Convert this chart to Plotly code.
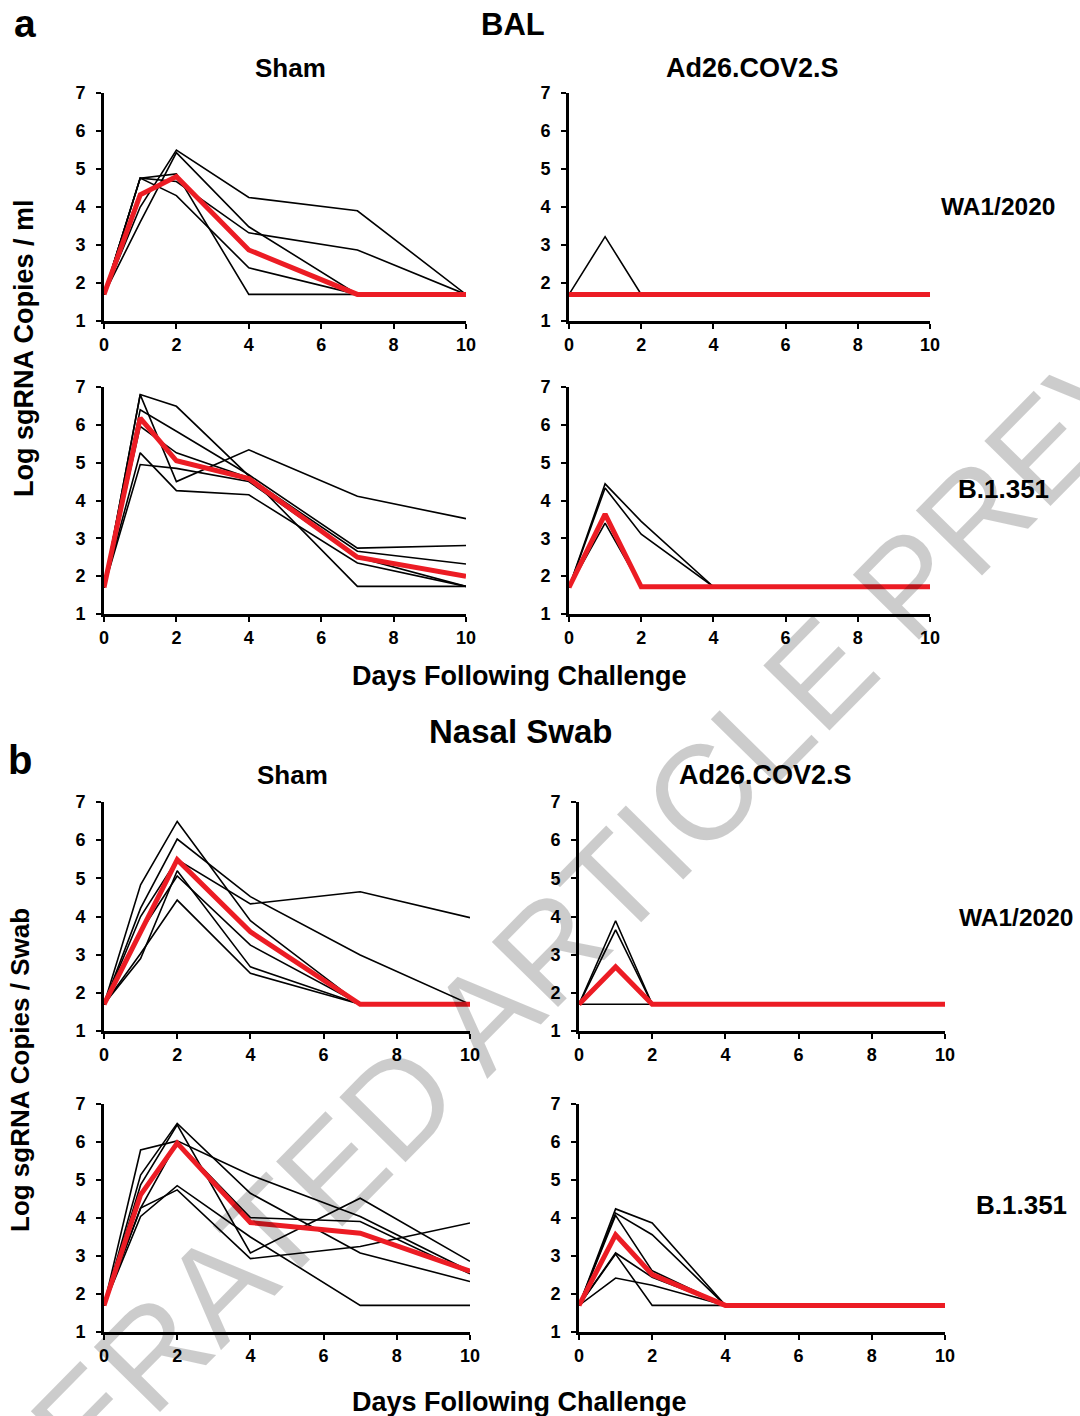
import plotly.graph_objects as go

days = [0, 1, 2, 4, 7, 10]
x_ticks = [0, 2, 4, 6, 8, 10]
y_ticks = [1, 2, 3, 4, 5, 6, 7]

# ---- a: BAL ----
bal_sham_wa = [
    [1.7, 4.0, 5.5, 4.25, 3.9, 1.7],
    [1.7, 3.6, 5.43, 3.48, 1.7, 1.7],
    [1.7, 4.76, 4.87, 1.7, 1.7, 1.7],
    [1.7, 4.76, 4.67, 3.32, 2.87, 1.7],
    [1.7, 4.76, 4.3, 2.4, 1.7, 1.7],
]
bal_sham_wa_mean = [1.7, 4.32, 4.8, 2.87, 1.7, 1.7]

bal_ad26_wa = [
    [1.7, 3.22, 1.7, 1.7, 1.7, 1.7],
    [1.7, 1.7, 1.7, 1.7, 1.7, 1.7],
]
bal_ad26_wa_mean = [1.7, 1.7, 1.7, 1.7, 1.7, 1.7]

bal_sham_b = [
    [1.7, 6.8, 6.49, 4.65, 1.73, 1.73],
    [1.7, 6.8, 4.5, 5.34, 4.11, 3.52],
    [1.7, 6.4, 5.83, 4.68, 2.74, 2.81],
    [1.7, 5.96, 5.26, 4.6, 2.66, 2.32],
    [1.7, 5.26, 4.26, 4.15, 2.35, 1.73],
    [1.7, 4.95, 4.85, 4.5, 2.5, 1.73],
]
bal_sham_b_mean = [1.7, 6.18, 5.05, 4.58, 2.5, 2.0]

bal_ad26_b = [
    [1.7, 4.44, 3.45, 1.72, 1.72, 1.72],
    [1.7, 4.33, 3.11, 1.72, 1.72, 1.72],
    [1.7, 3.4, 1.72, 1.72, 1.72, 1.72],
]
bal_ad26_b_mean = [1.7, 3.64, 1.72, 1.72, 1.72, 1.72]

# ---- b: Nasal swab ----
ns_sham_wa = [
    [1.7, 4.83, 6.49, 3.89, 1.7, 1.7],
    [1.7, 4.22, 6.03, 4.52, 2.99, 1.7],
    [1.7, 4.0, 5.49, 4.33, 4.65, 3.97],
    [1.7, 3.6, 5.06, 3.25, 1.7, 1.7],
    [1.7, 3.03, 4.43, 2.51, 1.7, 1.7],
    [1.7, 2.9, 5.2, 2.68, 1.7, 1.7],
]
ns_sham_wa_mean = [1.7, 3.6, 5.49, 3.6, 1.7, 1.7]

ns_ad26_wa = [
    [1.7, 3.89, 1.7, 1.7, 1.7, 1.7],
    [1.7, 3.65, 1.7, 1.7, 1.7, 1.7],
    [1.7, 1.7, 1.7, 1.7, 1.7, 1.7],
]
ns_ad26_wa_mean = [1.7, 2.68, 1.7, 1.7, 1.7, 1.7]

ns_sham_b = [
    [1.7, 5.79, 6.03, 5.13, 4.04, 2.6],
    [1.7, 5.13, 6.49, 4.65, 3.08, 2.33],
    [1.7, 4.87, 6.45, 3.08, 4.52, 2.86],
    [1.7, 4.04, 4.85, 3.5, 1.7, 1.7],
    [1.7, 4.26, 6.0, 4.01, 3.91, 2.53],
    [1.7, 4.26, 4.74, 2.93, 3.25, 3.87],
]
ns_sham_b_mean = [1.7, 4.61, 5.97, 3.88, 3.6, 2.6]

ns_ad26_b = [
    [1.7, 4.24, 3.87, 1.7, 1.7, 1.7],
    [1.7, 4.13, 3.56, 1.7, 1.7, 1.7],
    [1.7, 4.07, 2.61, 1.7, 1.7, 1.7],
    [1.7, 3.08, 2.44, 1.7, 1.7, 1.7],
    [1.7, 3.05, 1.7, 1.7, 1.7, 1.7],
    [1.7, 2.42, 2.23, 1.7, 1.7, 1.7],
]
ns_ad26_b_mean = [1.7, 3.56, 2.51, 1.7, 1.7, 1.7]

W, H = 1080, 1416


def fx(x):
    return x / W


def fy(y):
    return 1 - y / H


# panel pixel boxes in the target image: (x0, x1, ytop, ybottom)
panels = [
    (bal_sham_wa, bal_sham_wa_mean, (104, 466, 93, 321)),
    (bal_ad26_wa, bal_ad26_wa_mean, (569, 930, 93, 321)),
    (bal_sham_b, bal_sham_b_mean, (104, 466, 387, 614)),
    (bal_ad26_b, bal_ad26_b_mean, (569, 930, 387, 614)),
    (ns_sham_wa, ns_sham_wa_mean, (104, 470, 802, 1031)),
    (ns_ad26_wa, ns_ad26_wa_mean, (579, 945, 802, 1031)),
    (ns_sham_b, ns_sham_b_mean, (104, 470, 1104, 1332)),
    (ns_ad26_b, ns_ad26_b_mean, (579, 945, 1104, 1332)),
]

FONT = "Liberation Sans, Arial, sans-serif"
RED = "#ec1c24"

fig = go.Figure()
layout = {}
for i, (lines, mean, box) in enumerate(panels):
    n = i + 1
    xa = "x" if n == 1 else f"x{n}"
    ya = "y" if n == 1 else f"y{n}"
    for ln in lines:
        fig.add_trace(go.Scatter(x=days, y=ln, mode="lines", xaxis=xa, yaxis=ya,
                                 line=dict(color="black", width=1.6), showlegend=False,
                                 hoverinfo="skip"))
    fig.add_trace(go.Scatter(x=days, y=mean, mode="lines", xaxis=xa, yaxis=ya,
                             line=dict(color=RED, width=5), showlegend=False))
    x0, x1, yt, yb = box
    common = dict(showgrid=False, zeroline=False, showline=True, linecolor="black",
                  linewidth=3, ticks="outside", ticklen=5, tickwidth=2, tickcolor="black",
                  tickfont=dict(family=FONT, size=18, color="black", weight="bold"),
                  fixedrange=True, automargin=False)
    layout[f"xaxis{n}" if n > 1 else "xaxis"] = dict(
        domain=[fx(x0), fx(x1)], range=[0, 10], tickvals=x_ticks,
        anchor=ya, **common)
    layout[f"yaxis{n}" if n > 1 else "yaxis"] = dict(
        domain=[fy(yb), fy(yt)], range=[1, 7], tickvals=y_ticks,
        anchor=xa, ticklabelstandoff=7, **common)

fig.update_layout(**layout)


def txt(x, y, s, size, angle=0, color="black", yanchor="middle"):
    return dict(x=fx(x), y=fy(y), xref="paper", yref="paper", text=s,
                showarrow=False, textangle=angle, xanchor="center", yanchor=yanchor,
                font=dict(family=FONT, size=size, color=color, weight="bold"))


annotations = [
    txt(25, 0, "a", 39, yanchor="top"),
    txt(513, 25, "BAL", 31),
    txt(290, 68, "Sham", 26),
    txt(752, 68, "Ad26.COV2.S", 27),
    txt(998, 207, "WA1/2020", 24.5),
    txt(1003, 489, "B.1.351", 26),
    txt(24, 348, "Log sgRNA Copies / ml", 27, angle=-90),
    txt(519, 676, "Days Following Challenge", 27),
    txt(520, 731, "Nasal Swab", 33),
    txt(20, 760, "b", 40),
    txt(292, 775, "Sham", 26),
    txt(765, 775, "Ad26.COV2.S", 27),
    txt(1016, 917, "WA1/2020", 24.5),
    txt(1021, 1205, "B.1.351", 26),
    txt(20, 1070, "Log sgRNA Copies / Swab", 26, angle=-90),
    txt(519, 1402, "Days Following Challenge", 27),
]
wm = dict(x=fx(528), y=fy(972), xref="paper", yref="paper",
          text="ACCELERATED ARTICLE PREVIEW", showarrow=False, textangle=-45.5,
          xanchor="center", yanchor="middle",
          font=dict(family=FONT, size=135, color="rgba(0,0,0,0.2)"))
annotations.append(wm)

fig.update_layout(width=W, height=H, margin=dict(l=0, r=0, t=0, b=0, autoexpand=False),
                  paper_bgcolor="white", plot_bgcolor="white",
                  annotations=annotations, showlegend=False)

fig.write_html("out.html")
